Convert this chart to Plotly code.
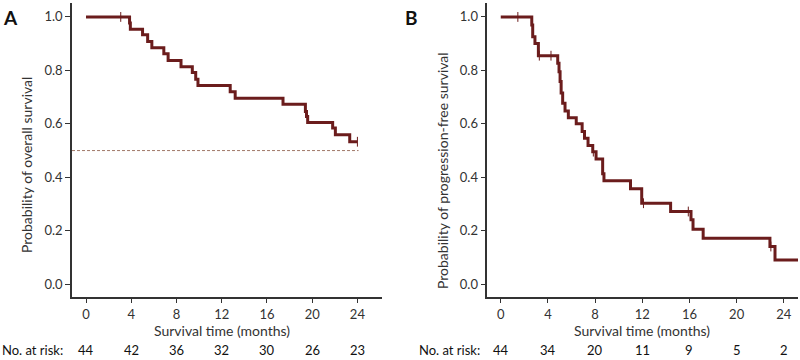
import plotly.graph_objects as go

# ---------------- data ----------------
os_times = [0, 3.85, 3.92, 5.0, 5.45, 5.82, 6.88, 7.26, 8.4, 9.4, 9.7, 9.9, 12.75, 13.19, 17.42, 19.4, 19.5, 19.6, 21.81, 22.05, 23.32, 24.0]
os_surv = [1.0, 0.977, 0.954, 0.933, 0.908, 0.885, 0.862, 0.837, 0.814, 0.792, 0.767, 0.743, 0.720, 0.696, 0.673, 0.646, 0.627, 0.605, 0.584, 0.559, 0.533, 0.533]
os_cens_t = [3.07, 24.0]
os_cens_s = [1.0, 0.533]

pfs_times = [0, 2.63, 2.71, 2.9, 3.19, 4.83, 4.94, 5.03, 5.12, 5.25, 5.45, 5.73, 6.4, 6.9, 7.1, 7.4, 7.8, 8.08, 8.64, 8.75, 11.0, 11.95, 14.4, 16.13, 16.3, 17.16, 22.82, 23.25, 25.3]
pfs_surv = [1.0, 0.970, 0.926, 0.901, 0.855, 0.827, 0.795, 0.758, 0.715, 0.677, 0.648, 0.623, 0.600, 0.571, 0.546, 0.519, 0.496, 0.468, 0.413, 0.387, 0.357, 0.303, 0.272, 0.241, 0.206, 0.172, 0.141, 0.091, 0.091]
pfs_cens_t = [1.45, 3.27, 4.26, 7.85, 12.1, 15.9, 22.9]
pfs_cens_s = [1.0, 0.855, 0.855, 0.496, 0.303, 0.272, 0.141]

risk_times = [0, 4, 8, 12, 16, 20, 24]
os_risk = [44, 42, 36, 32, 30, 26, 23]
pfs_risk = [44, 34, 20, 11, 9, 5, 2]
x_ticks = [0, 4, 8, 12, 16, 20, 24]
y_ticks = [0.0, 0.2, 0.4, 0.6, 0.8, 1.0]

LINE = "#6b1c1c"
AX = "#333333"
FONT = "Lato"
W, H = 800, 360

fig = go.Figure()

def add_panel(t, s, ct, cs, xa, ya):
    fig.add_trace(go.Scatter(x=t, y=s, mode="lines", line=dict(color=LINE, width=3, shape="hv"),
                             xaxis=xa, yaxis=ya, showlegend=False, hoverinfo="skip"))
    fig.add_trace(go.Scatter(x=ct, y=cs, mode="markers",
                             marker=dict(symbol="line-ns", size=7, line=dict(color=LINE, width=1)),
                             xaxis=xa, yaxis=ya, showlegend=False, hoverinfo="skip"))

add_panel(os_times, os_surv, os_cens_t, os_cens_s, "x", "y")
add_panel(pfs_times, pfs_surv, pfs_cens_t, pfs_cens_s, "x2", "y2")

# median reference line (panel A)
fig.add_trace(go.Scatter(x=[-1.24, 24.1], y=[0.5, 0.5], mode="lines",
                         line=dict(color="#a07868", width=1, dash="3px,2px"),
                         xaxis="x", yaxis="y", showlegend=False, hoverinfo="skip"))

ydom = [1 - 297.3 / H, 1 - 3.3 / H]
xcommon = dict(showline=True, linecolor=AX, linewidth=1.5, ticks="outside", ticklen=4,
               tickwidth=1, tickcolor=AX, showgrid=False, zeroline=False,
               tickvals=x_ticks, tickfont=dict(family=FONT, size=13, color=AX))
ycommon = dict(showline=True, linecolor=AX, linewidth=1.5, ticks="outside", ticklen=5,
               tickwidth=1, tickcolor=AX, showgrid=False, zeroline=False,
               tickvals=y_ticks, tickformat=".1f", range=[-0.049, 1.051],
               tickfont=dict(family=FONT, size=13, color=AX), domain=ydom)

fig.update_layout(
    width=W, height=H, margin=dict(l=0, r=0, t=0, b=0),
    plot_bgcolor="white", paper_bgcolor="white",
    font=dict(family=FONT, size=13, color=AX),
    xaxis=dict(domain=[72 / W, 382.3 / W], range=[-1.24, 26.2], anchor="y", **xcommon),
    yaxis=dict(anchor="x", **ycommon),
    xaxis2=dict(domain=[487.3 / W, 798 / W], range=[-1.14, 25.2], anchor="y2", **xcommon),
    yaxis2=dict(anchor="x2", **ycommon),
)

ann = []
def paper_y(py):
    return 1 - py / H

# panel letters
ann.append(dict(text="<b>A</b>", x=1 / W, y=paper_y(4), xref="paper", yref="paper",
                xanchor="left", yanchor="top", showarrow=False, font=dict(family=FONT, size=19, color="#111")))
ann.append(dict(text="<b>B</b>", x=403 / W, y=paper_y(4), xref="paper", yref="paper",
                xanchor="left", yanchor="top", showarrow=False, font=dict(family=FONT, size=19, color="#111")))

# y titles
ann.append(dict(text="Probability of overall survival", x=27 / W, y=paper_y(165), xref="paper", yref="paper",
                textangle=-90, showarrow=False, xanchor="center", yanchor="middle",
                font=dict(family=FONT, size=14, color=AX)))
ann.append(dict(text="Probability of progression-free survival", x=442 / W, y=paper_y(171), xref="paper", yref="paper",
                textangle=-90, showarrow=False, xanchor="center", yanchor="middle",
                font=dict(family=FONT, size=14, color=AX)))

# x titles
for xr in ("x", "x2"):
    ann.append(dict(text="Survival time (months)", x=12, y=paper_y(330), xref=xr, yref="paper",
                    showarrow=False, xanchor="center", yanchor="middle",
                    font=dict(family=FONT, size=14, color=AX)))

# risk tables
ann.append(dict(text="No. at risk:", x=0 / W, y=paper_y(350), xref="paper", yref="paper",
                showarrow=False, xanchor="left", yanchor="middle", font=dict(family=FONT, size=13, color="#111")))
ann.append(dict(text="No. at risk:", x=417 / W, y=paper_y(350), xref="paper", yref="paper",
                showarrow=False, xanchor="left", yanchor="middle", font=dict(family=FONT, size=13, color="#111")))
for t, n in zip(risk_times, os_risk):
    ann.append(dict(text=str(n), x=t, y=paper_y(350), xref="x", yref="paper", showarrow=False,
                    xanchor="center", yanchor="middle", font=dict(family=FONT, size=13, color="#111")))
for t, n in zip(risk_times, pfs_risk):
    ann.append(dict(text=str(n), x=t, y=paper_y(350), xref="x2", yref="paper", showarrow=False,
                    xanchor="center", yanchor="middle", font=dict(family=FONT, size=13, color="#111")))

fig.update_layout(annotations=ann)
fig.write_html("out.html", config={"displayModeBar": False},
               post_script="document.body.style.margin='0';")
